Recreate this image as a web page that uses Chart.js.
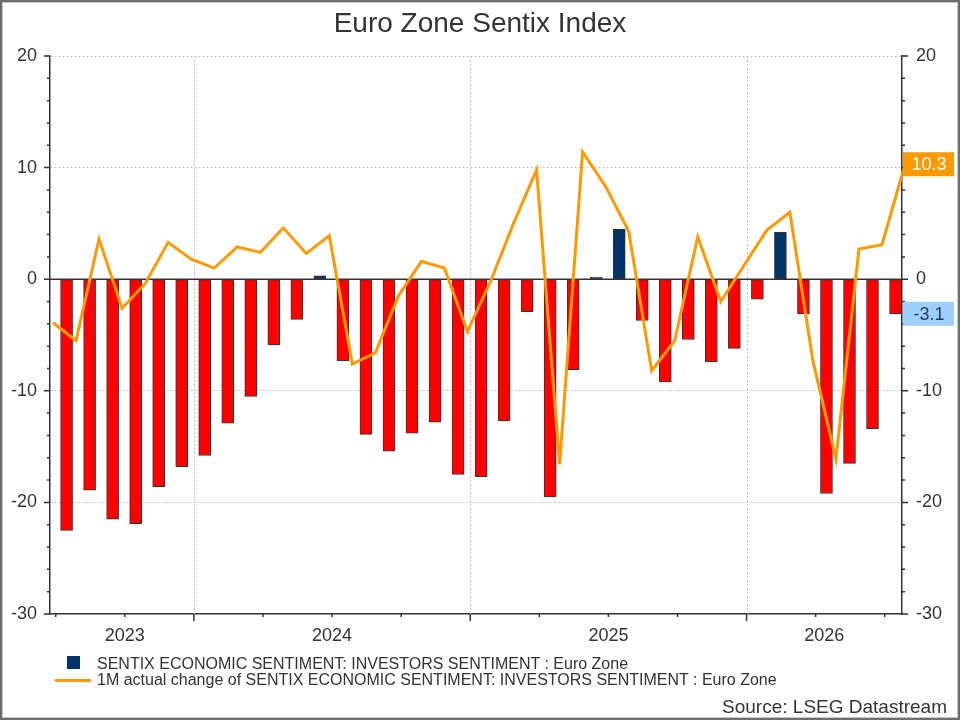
<!DOCTYPE html>
<html>
<head>
<meta charset="utf-8">
<title>Euro Zone Sentix Index</title>
<script src="https://cdn.jsdelivr.net/npm/chart.js@4.4.1/dist/chart.umd.min.js"></script>
<style>
  body { margin: 0; background: #fff; font-family: 'Liberation Sans', Arial, sans-serif; color: #333; }
  #wrap { position: relative; width: 960px; height: 720px; overflow: hidden; }
  #chart { position: absolute; left: 0; top: 0; }
  .txt { position: absolute; line-height: 1; white-space: nowrap; }
  #title { left: 0; width: 960px; top: 9px; text-align: center; font-size: 28px; }
  .leg { left: 97px; font-size: 16px; }
  #leg1 { top: 656px; }
  #leg2 { top: 672px; }
  .key { position: absolute; }
  #key1 { left: 67px; top: 656px; width: 13px; height: 13px; background: #003366; }
  #key2 { left: 55px; top: 679px; width: 36px; height: 3px; background: #ff9900; }
  #source { right: 13px; top: 697px; font-size: 19px; }
  #frame { position: absolute; left: 0; top: 0; width: 960px; height: 720px; box-sizing: border-box;
           border: 2px solid #6e6e6e; box-shadow: inset 0 0 0 1px #c8c8c8; pointer-events: none; }
</style>
</head>
<body>
<div id="wrap">
  <canvas id="chart" width="960" height="720"></canvas>
  <div class="txt" id="title">Euro Zone Sentix Index</div>
  <div class="key" id="key1"></div>
  <div class="txt leg" id="leg1">SENTIX ECONOMIC SENTIMENT: INVESTORS SENTIMENT : Euro Zone</div>
  <div class="key" id="key2"></div>
  <div class="txt leg" id="leg2">1M actual change of SENTIX ECONOMIC SENTIMENT: INVESTORS SENTIMENT : Euro Zone</div>
  <div class="txt" id="source">Source: LSEG Datastream</div>
  <div id="frame"></div>
</div>
<script>
// months shown as bars
let months = [
    'Jul 2023', 'Aug 2023', 'Sep 2023', 'Oct 2023', 'Nov 2023', 'Dec 2023',
    'Jan 2024', 'Feb 2024', 'Mar 2024', 'Apr 2024', 'May 2024', 'Jun 2024',
    'Jul 2024', 'Aug 2024', 'Sep 2024', 'Oct 2024', 'Nov 2024', 'Dec 2024',
    'Jan 2025', 'Feb 2025', 'Mar 2025', 'Apr 2025', 'May 2025', 'Jun 2025',
    'Jul 2025', 'Aug 2025', 'Sep 2025', 'Oct 2025', 'Nov 2025', 'Dec 2025',
    'Jan 2026', 'Feb 2026', 'Mar 2026', 'Apr 2026', 'May 2026', 'Jun 2026', 'Jul 2026'
]

// sentix level
let sentix = [
    -22.5, -18.9, -21.5, -21.9, -18.6, -16.8,
    -15.8, -12.9, -10.5, -5.9, -3.6, 0.3,
    -7.3, -13.9, -15.4, -13.8, -12.8, -17.5,
    -17.7, -12.7, -2.9, -19.5, -8.1, 0.2,
    4.5, -3.7, -9.2, -5.4, -7.4, -6.2,
    -1.8, 4.2, -3.1, -19.2, -16.5, -13.4, -3.1
]

// 1M change, one month earlier start (Jun 2023)
let changeMonths = ['Jun 2023'].concat(months)
let change = [
    -3.9, -5.5, 3.6, -2.6, -0.4, 3.3, 1.8,
    1.0, 2.9, 2.4, 4.6, 2.3, 3.9, -7.6, -6.6, -1.5, 1.6, 1.0, -4.7,
    -0.2, 5.0, 9.8, -16.6, 11.4, 8.3, 4.3, -8.2, -5.5, 3.8, -2.0, 1.2,
    4.4, 6.0, -7.3, -16.1, 2.7, 3.1, 10.3
]

let yearLabels = ['2023', '2024', '2025', '2026']
let yTicks = [20, 10, 0, -10, -20, -30]

// x axis in month units, 0 = left edge of plot
const xMin = 0
const xMax = 37
const monthStart = 0.25
const barPos = 0.72
const linePos = 0.13

let inkColor = '#333333'
let gridColor = '#c4c4c4'
let fontFamily = "'Liberation Sans', Arial, sans-serif"

let barPoints = sentix.map(function(v, i) { return { x: i + barPos, y: v } })
let linePoints = change.map(function(v, k) { return { x: k + linePos, y: v } })

let yearStarts = []
let quarterTicks = []
months.forEach(function(m, i) {
    let mon = m.slice(0, 3)
    if (mon === 'Jan') yearStarts.push(i + monthStart)
    if (['Jan', 'Apr', 'Jul', 'Oct'].includes(mon)) quarterTicks.push(i + monthStart)
})

let yearCenters = yearLabels.map(function(yr) {
    let idx = months.map(function(m, i) { return m.endsWith(yr) ? i : -1 }).filter(function(i) { return i >= 0 })
    let a = Math.max(idx[0] + monthStart, xMin)
    let b = Math.min(idx[idx.length - 1] + 1 + monthStart, xMax)
    return (a + b) / 2
})

function setTicks(values) {
    return function(scale) {
        scale.ticks = values.map(function(v) { return { value: v } })
    }
}

// gridlines, zero line, tick marks and end-value badges
let axisMarks = {
    id: 'axisMarks',
    beforeDatasetsDraw(chart) {
        let ctx = chart.ctx
        let a = chart.chartArea
        let x = chart.scales.x
        let y = chart.scales.y
        ctx.save()
        ctx.strokeStyle = gridColor
        ctx.lineWidth = 1
        ctx.setLineDash([2, 2])
        yearStarts.forEach(function(v) {
            let px = Math.round(x.getPixelForValue(v)) + 0.5
            ctx.beginPath()
            ctx.moveTo(px, a.top)
            ctx.lineTo(px, a.bottom)
            ctx.stroke()
        })
        ctx.setLineDash([])
        ctx.strokeStyle = inkColor
        ctx.lineWidth = 1.5
        let zy = y.getPixelForValue(0)
        ctx.beginPath()
        ctx.moveTo(a.left, zy)
        ctx.lineTo(a.right, zy)
        ctx.stroke()
        ctx.restore()
    },
    afterDraw(chart) {
        let ctx = chart.ctx
        let a = chart.chartArea
        let x = chart.scales.x
        let y = chart.scales.y
        ctx.save()
        ctx.strokeStyle = inkColor
        ctx.lineWidth = 1.5
        ctx.beginPath()
        for (let v = -30; v <= 20; v += 2) {
            let py = y.getPixelForValue(v)
            let len = v % 10 === 0 ? 6 : 3
            ctx.moveTo(a.left - len, py)
            ctx.lineTo(a.left, py)
            ctx.moveTo(a.right, py)
            ctx.lineTo(a.right + len, py)
        }
        quarterTicks.forEach(function(v) {
            let px = x.getPixelForValue(v)
            let len = yearStarts.includes(v) ? 7 : 3
            ctx.moveTo(px, a.bottom)
            ctx.lineTo(px, a.bottom + len)
        })
        ctx.stroke()

        // last values on the right axis
        let badges = [
            { value: change[change.length - 1], fill: '#ff9900', text: '#ffffff' },
            { value: sentix[sentix.length - 1], fill: '#9fcfff', text: '#1f3b57' }
        ]
        ctx.font = '18px ' + fontFamily
        ctx.textAlign = 'center'
        ctx.textBaseline = 'middle'
        badges.forEach(function(b) {
            let py = chart.scales.y2.getPixelForValue(b.value)
            ctx.fillStyle = b.fill
            ctx.fillRect(a.right + 1, py - 12, 51, 24)
            ctx.fillStyle = b.text
            ctx.fillText(b.value.toFixed(1), a.right + 27, py + 1)
        })
        ctx.restore()
    }
}

let tickFont = { family: fontFamily, size: 18 }

let sentixChart = new Chart(document.getElementById('chart'), {
    type: 'bar',
    data: {
        datasets: [{
                type: 'line',
                label: '1M actual change of SENTIX ECONOMIC SENTIMENT: INVESTORS SENTIMENT : Euro Zone',
                data: linePoints,
                borderColor: '#ff9900',
                borderWidth: 3,
                pointRadius: 0,
                tension: 0,
                clip: 0,
                yAxisID: 'y2',
                order: 0
            },
            {
                label: 'SENTIX ECONOMIC SENTIMENT: INVESTORS SENTIMENT : Euro Zone',
                data: barPoints,
                backgroundColor: function(c) { return c.raw && c.raw.y < 0 ? '#ff0000' : '#003366' },
                borderColor: inkColor,
                borderWidth: 1,
                borderSkipped: false,
                barThickness: 12,
                yAxisID: 'y',
                order: 1
            }
        ]
    },
    options: {
        responsive: false,
        animation: false,
        layout: { padding: { top: 56, bottom: 0, left: 0, right: 0 } },
        plugins: {
            legend: { display: false },
            tooltip: { enabled: false },
            title: { display: false }
        },
        scales: {
            x: {
                type: 'linear',
                min: xMin,
                max: xMax,
                offset: false,
                afterBuildTicks: setTicks(yearCenters),
                afterFit: function(s) { s.height = 106 },
                grid: { display: false, offset: false },
                border: { display: true, color: inkColor, width: 1.5 },
                ticks: {
                    autoSkip: false,
                    maxRotation: 0,
                    padding: 3,
                    color: inkColor,
                    font: tickFont,
                    callback: function(value, index) { return yearLabels[index] }
                }
            },
            y: {
                position: 'left',
                min: -30,
                max: 20,
                afterBuildTicks: setTicks(yTicks),
                afterFit: function(s) { s.width = 50 },
                grid: {
                    drawTicks: false,
                    color: function(c) { return c.tick && (c.tick.value === 0 || c.tick.value === -30) ? 'rgba(0,0,0,0)' : gridColor }
                },
                border: { display: true, color: inkColor, width: 1.5, dash: [2, 2] },
                ticks: { padding: 13, color: inkColor, font: tickFont }
            },
            y2: {
                position: 'right',
                min: -30,
                max: 20,
                afterBuildTicks: setTicks(yTicks),
                afterFit: function(s) { s.width = 58 },
                grid: { drawOnChartArea: false, drawTicks: false },
                border: { display: true, color: inkColor, width: 1.5 },
                ticks: { padding: 14, color: inkColor, font: tickFont }
            }
        }
    },
    plugins: [axisMarks]
})
</script>
</body>
</html>
